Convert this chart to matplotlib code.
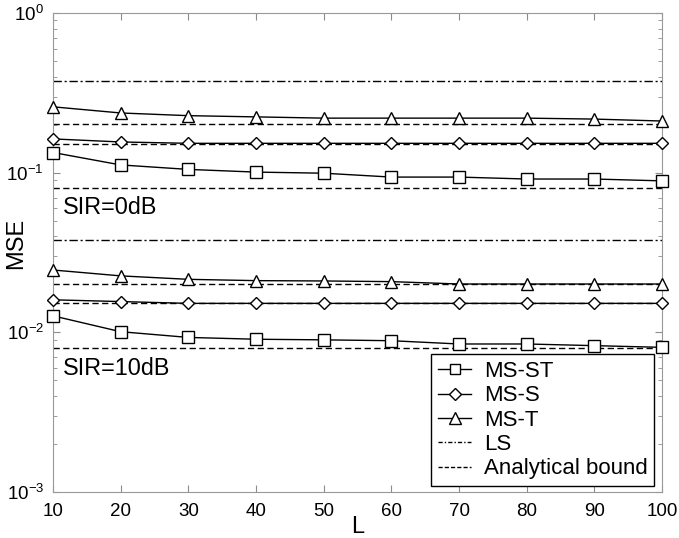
import matplotlib
matplotlib.use("Agg")
import matplotlib.pyplot as plt
import matplotlib.ticker as ticker
import numpy as np

plt.rcParams["font.family"] = ["Liberation Sans", "DejaVu Sans"]
plt.rcParams["mathtext.fontset"] = "custom"
plt.rcParams["mathtext.rm"] = "Liberation Sans"
plt.rcParams["font.size"] = 16

L = np.array([10, 20, 30, 40, 50, 60, 70, 80, 90, 100])

# SIR = 0 dB
ms_st_0 = [0.134, 0.112, 0.105, 0.101, 0.0994, 0.094, 0.094, 0.0914, 0.0914, 0.089]
ms_s_0 = [0.163, 0.156, 0.153, 0.153, 0.153, 0.153, 0.153, 0.153, 0.153, 0.153]
ms_t_0 = [0.259, 0.237, 0.228, 0.224, 0.220, 0.220, 0.220, 0.220, 0.217, 0.211]
ls_0 = 0.378
bounds_0 = [0.0798, 0.152, 0.203]

# SIR = 10 dB
ms_st_10 = [0.0127, 0.0101, 0.0093, 0.00906, 0.00898, 0.00887, 0.00846, 0.00846, 0.00826, 0.00806]
ms_s_10 = [0.0160, 0.0156, 0.0152, 0.0152, 0.0152, 0.0152, 0.0152, 0.0152, 0.0152, 0.0152]
ms_t_10 = [0.0246, 0.0226, 0.0215, 0.0211, 0.0210, 0.0208, 0.0201, 0.0201, 0.0201, 0.0201]
ls_10 = 0.0379
bounds_10 = [0.00794, 0.0153, 0.0201]

fig = plt.figure(figsize=(6.79, 5.38), dpi=100)
ax = fig.add_axes([0.078, 0.0855, 0.897, 0.89])

lw = 1.0
mk = dict(color="k", lw=lw, mfc="white", mec="k", mew=1.0)
ones = np.ones(len(L))

for st, s, t, ls, bnds in [(ms_st_0, ms_s_0, ms_t_0, ls_0, bounds_0),
                           (ms_st_10, ms_s_10, ms_t_10, ls_10, bounds_10)]:
    ax.plot(L, ls * ones, color="k", lw=lw, ls=(0, (6, 2, 1.5, 2)))
    for b in bnds:
        ax.plot(L, b * ones, color="k", lw=lw, ls=(0, (4.5, 2.5)), clip_on=False)
    ax.plot(L, t, marker="^", ms=9, clip_on=False, zorder=3, **mk)
    ax.plot(L, s, marker="D", ms=6.5, clip_on=False, zorder=3, **mk)
    ax.plot(L, st, marker="s", ms=8, clip_on=False, zorder=3, **mk)

# legend handles
h1, = ax.plot([], [], marker="s", ms=7.5, **mk)
h2, = ax.plot([], [], marker="D", ms=6, **mk)
h3, = ax.plot([], [], marker="^", ms=8, **mk)
h4, = ax.plot([], [], color="k", lw=lw, ls=(0, (3, 1.5, 1, 1.5)))
h5, = ax.plot([], [], color="k", lw=lw, ls=(0, (3, 1.5)))
leg = ax.legend([h1, h2, h3, h4, h5],
                ["MS-ST", "MS-S", "MS-T", "LS", "Analytical bound"],
                loc="lower right", bbox_to_anchor=(0.987, 0.0125), borderaxespad=0,
                fancybox=False, framealpha=1, edgecolor="k",
                handlelength=1.5, handletextpad=0.55, labelspacing=0.15,
                borderpad=0.3, fontsize=16)
leg.get_frame().set_linewidth(1.0)

ax.text(11.4, 0.061, "SIR=0dB", fontsize=16.8, va="center")
ax.text(11.4, 0.0059, "SIR=10dB", fontsize=16.8, va="center")

ax.set_yscale("log")
ax.set_xlim(10, 100)
ax.set_ylim(1e-3, 1)
ax.xaxis.set_major_locator(ticker.MultipleLocator(10))
ax.yaxis.set_major_locator(ticker.LogLocator(base=10, numticks=10))
ax.yaxis.set_minor_locator(ticker.LogLocator(base=10, subs=np.arange(2, 10), numticks=10))
ax.yaxis.set_major_formatter(ticker.FuncFormatter(
    lambda v, p: r"$\mathregular{10^{%d}}$" % int(round(np.log10(v)))))
ax.yaxis.set_minor_formatter(ticker.NullFormatter())
ax.tick_params(which="both", direction="in", top=True, right=True, color="0.55")
ax.tick_params(which="major", length=5, labelsize=13.5)
ax.tick_params(axis="x", pad=8)
ax.tick_params(axis="y", pad=6.5)
ax.tick_params(which="minor", length=3)
for sp in ax.spines.values():
    sp.set_color("0.6")
    sp.set_linewidth(0.8)

ax.set_xlabel("L", fontsize=17, labelpad=-3)
ax.set_ylabel("MSE", fontsize=17)
ax.yaxis.set_label_coords(-0.042, 0.52)

fig.savefig("out.png", dpi=100)
